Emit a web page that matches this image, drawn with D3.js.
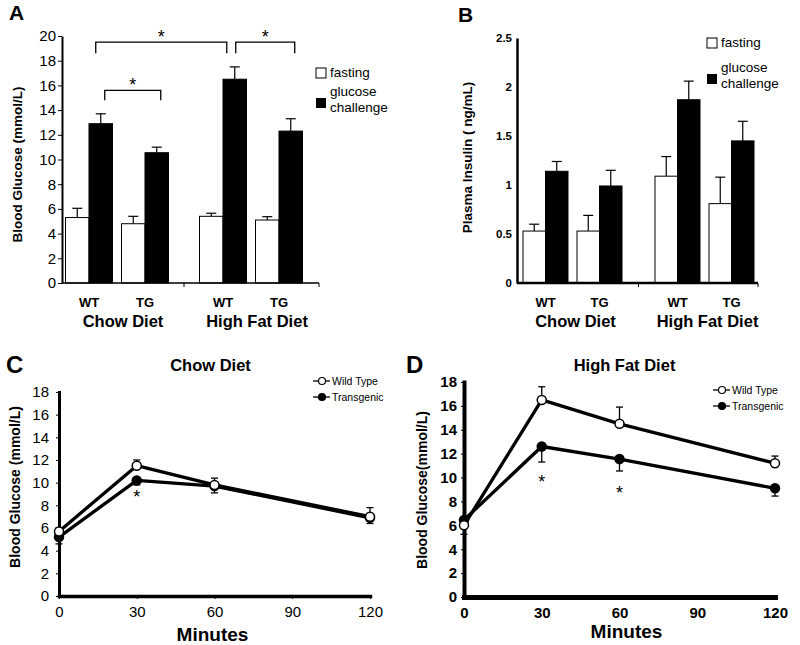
<!DOCTYPE html>
<html>
<head>
<meta charset="utf-8">
<script src="https://cdn.jsdelivr.net/npm/d3@7"></script>
<style>
body { margin: 0; background: #fff; }
text { font-family: "Liberation Sans", Arial, sans-serif; fill: #000; }
</style>
</head>
<body>
<script>
// ---- data ----
var diets = ["Chow Diet", "High Fat Diet"];
var genotypes = ["WT", "TG"];

// panel A, blood glucose (mmol/L); order chow WT, chow TG, HF WT, HF TG
var glucoseFasting = [5.3, 4.8, 5.4, 5.1];
var glucoseFastingErr = [0.75, 0.6, 0.25, 0.27];
var glucoseChallenge = [12.9, 10.55, 16.5, 12.3];
var glucoseChallengeErr = [0.8, 0.45, 1.0, 1.0];
var glucoseTicks = [0, 2, 4, 6, 8, 10, 12, 14, 16, 18, 20];

// panel B, plasma insulin (ng/mL)
var insulinFasting = [0.53, 0.53, 1.09, 0.81];
var insulinFastingErr = [0.07, 0.16, 0.2, 0.27];
var insulinChallenge = [1.14, 0.99, 1.87, 1.45];
var insulinChallengeErr = [0.1, 0.16, 0.19, 0.2];
var insulinTicks = [0, 0.5, 1, 1.5, 2, 2.5];

// significance brackets on challenge bars: [from bar, to bar, top value, foot value]
var sigPairs = [[0, 2, 19.5, 18.6], [2, 3, 19.5, 18.6], [0, 1, 15.6, 14.8]];

// panels C and D, glucose tolerance
var minutes = [0, 30, 60, 120];
var minuteTicks = [0, 30, 60, 90, 120];
var bgTicks = [0, 2, 4, 6, 8, 10, 12, 14, 16, 18];
var seriesNames = ["Wild Type", "Transgenic"];

var chowWT = [5.7, 11.5, 9.8, 7.0];
var chowWTErr = [0.3, 0.5, 0.6, 0.8];     // upward
var chowTG = [5.2, 10.2, 9.7, 6.9];
var chowTGErr = [0.6, 0.4, 0.6, 0.5];     // downward
var chowStars = [[30, 9.1]];

var hfWT = [6.0, 16.5, 14.5, 11.2];
var hfWTErr = [0.3, 1.1, 1.4, 0.6];
var hfTG = [6.45, 12.6, 11.55, 9.1];
var hfTGErr = [1.2, 1.3, 1.0, 0.65];
var hfStars = [[30, 9.97], [60, 9.05]];

var svg = d3.select("body").append("svg")
    .attr("width", 800)
    .attr("height", 645);

function addText(g, x, y, str, size, bold, anchor) {
    return g.append("text")
        .attr("x", x).attr("y", y)
        .attr("font-size", size + "px")
        .attr("font-weight", bold ? "bold" : "normal")
        .attr("text-anchor", anchor || "start")
        .text(str);
}

function errBar(g, x, y0, y1, cap, w) {
    g.append("line").attr("x1", x).attr("x2", x).attr("y1", y0).attr("y2", y1)
        .attr("stroke", "#000").attr("stroke-width", w);
    g.append("line").attr("x1", x - cap / 2).attr("x2", x + cap / 2).attr("y1", y1).attr("y2", y1)
        .attr("stroke", "#000").attr("stroke-width", w);
}

// ---- bar panels (A, B) ----
function barPanel(o) {
    var g = svg.append("g");
    var y = d3.scaleLinear().domain([0, o.yMax]).range([o.yBottom, o.yTop]);
    var xd = d3.scaleBand().domain(diets).range(o.dietRange);
    var xg = d3.scalePoint().domain(genotypes).range([-o.halfGap, o.halfGap]);

    var bars = [];
    diets.forEach(function (dt, i) {
        genotypes.forEach(function (gt, j) {
            var k = i * 2 + j;
            bars.push({
                geno: gt,
                cx: xd(dt) + xd.bandwidth() / 2 + xg(gt),
                fast: o.fasting[k], fastErr: o.fastingErr[k],
                chal: o.challenge[k], chalErr: o.challengeErr[k]
            });
        });
    });

    // error bars
    bars.forEach(function (b) {
        errBar(g, b.cx - o.barW / 2, y(b.fast), y(b.fast + b.fastErr), o.cap, 1.2);
        errBar(g, b.cx + o.barW / 2, y(b.chal), y(b.chal + b.chalErr), o.cap, 1.2);
    });

    g.selectAll("rect.fast").data(bars).enter().append("rect")
        .attr("class", "fast")
        .attr("x", function (d) { return d.cx - o.barW; })
        .attr("y", function (d) { return y(d.fast); })
        .attr("width", o.barW)
        .attr("height", function (d) { return y(0) - y(d.fast); })
        .attr("fill", "#fff").attr("stroke", "#000").attr("stroke-width", 1);

    g.selectAll("rect.chal").data(bars).enter().append("rect")
        .attr("class", "chal")
        .attr("x", function (d) { return d.cx; })
        .attr("y", function (d) { return y(d.chal); })
        .attr("width", o.barW)
        .attr("height", function (d) { return y(0) - y(d.chal); })
        .attr("fill", "#000").attr("stroke", "#000").attr("stroke-width", 1);

    // y axis
    var yAxis = d3.axisLeft(y).tickValues(o.ticks)
        .tickSize(o.tickSize).tickSizeOuter(0).tickPadding(o.tickPad)
        .tickFormat(function (d) { return d; });
    var ya = g.append("g").attr("transform", "translate(" + o.axisX + ",0)").call(yAxis);
    ya.select(".domain").attr("stroke-width", o.yAxisW);
    ya.selectAll(".tick line").attr("stroke-width", 1);
    ya.selectAll(".tick text")
        .attr("font-family", "'Liberation Sans', Arial, sans-serif")
        .attr("font-size", o.tickFont + "px")
        .attr("font-weight", o.tickBold ? "bold" : "normal");

    // x axis: baseline and ticks at diet boundaries
    g.append("line")
        .attr("x1", o.axisX).attr("x2", o.axisEnd)
        .attr("y1", y(0)).attr("y2", y(0))
        .attr("stroke", "#000").attr("stroke-width", o.xAxisW);
    [xd(diets[1]), o.axisEnd].forEach(function (tx) {
        g.append("line").attr("x1", tx).attr("x2", tx)
            .attr("y1", y(0)).attr("y2", y(0) + 4)
            .attr("stroke", "#000").attr("stroke-width", 1);
    });

    bars.forEach(function (b) {
        addText(g, b.cx, o.genoY, b.geno, 13, true, "middle");
    });
    diets.forEach(function (dt) {
        addText(g, xd(dt) + xd.bandwidth() / 2 + o.dietDx, o.dietY, dt, 16.5, true, "middle");
    });

    // y label
    g.append("text")
        .attr("transform", "translate(" + o.labelX + "," + ((o.yTop + o.yBottom) / 2 + o.labelDy) + ") rotate(-90)")
        .attr("text-anchor", "middle")
        .attr("dominant-baseline", "central")
        .attr("font-size", "13.5px").attr("font-weight", "bold")
        .text(o.yLabel);

    addText(g, o.letterX, o.letterY, o.letter, 21, true, "start");

    // legend
    var lg = g.append("g").attr("transform", "translate(" + o.legX + "," + o.legY + ")");
    lg.append("rect").attr("x", 0).attr("y", 0).attr("width", 10).attr("height", 10)
        .attr("fill", "#fff").attr("stroke", "#000").attr("stroke-width", 1);
    addText(lg, 14, 9, "fasting", 13.5, false);
    lg.append("rect").attr("x", 0).attr("y", o.legGap).attr("width", 10).attr("height", 10)
        .attr("fill", "#000");
    addText(lg, 14, o.legGap - 2, "glucose", 13.5, false);
    addText(lg, 14, o.legGap + 14, "challenge", 13.5, false);

    return {g: g, y: y, bars: bars, barW: o.barW};
}

var panelA = barPanel({
    yMax: 20, yBottom: 283, yTop: 36, ticks: glucoseTicks,
    dietRange: [50, 318], halfGap: 28, barW: 23.5, cap: 10,
    fasting: glucoseFasting, fastingErr: glucoseFastingErr,
    challenge: glucoseChallenge, challengeErr: glucoseChallengeErr,
    axisX: 62, axisEnd: 319, yAxisW: 2, xAxisW: 1.5,
    tickSize: 4, tickPad: 2, tickFont: 15, tickBold: false,
    genoY: 307, dietY: 327, dietDx: 6,
    yLabel: "Blood Glucose (mmol/L)", labelX: 17, labelDy: 5,
    letter: "A", letterX: 9, letterY: 20,
    legX: 316, legY: 68, legGap: 30
});

// significance brackets on panel A
var bracketNudge = [[-5, -8], [1, 4], [4, 4]];
sigPairs.forEach(function (p, i) {
    var y = panelA.y, g = panelA.g;
    var x1 = panelA.bars[p[0]].cx + panelA.barW / 2 + bracketNudge[i][0];
    var x2 = panelA.bars[p[1]].cx + panelA.barW / 2 + bracketNudge[i][1];
    g.append("path")
        .attr("d", "M" + x1 + "," + y(p[3]) + "V" + y(p[2]) + "H" + x2 + "V" + y(p[3]))
        .attr("fill", "none").attr("stroke", "#000").attr("stroke-width", 1.3);
    addText(g, (x1 + x2) / 2, y(p[2]) + 1, "*", 18, false, "middle");
});

barPanel({
    yMax: 2.5, yBottom: 283, yTop: 38, ticks: insulinTicks,
    dietRange: [506.5, 770.5], halfGap: 27, barW: 22.5, cap: 10,
    fasting: insulinFasting, fastingErr: insulinFastingErr,
    challenge: insulinChallenge, challengeErr: insulinChallengeErr,
    axisX: 517, axisEnd: 758, yAxisW: 2.5, xAxisW: 2.5,
    tickSize: 0, tickPad: 5, tickFont: 11.5, tickBold: true,
    genoY: 307, dietY: 327, dietDx: 3,
    yLabel: "Plasma Insulin ( ng/mL)", labelX: 467, labelDy: -3,
    letter: "B", letterX: 458, letterY: 22,
    legX: 707, legY: 38, legGap: 36
});

// ---- line panels (C, D) ----
function linePanel(o) {
    var g = svg.append("g");
    var x = d3.scaleLinear().domain([0, 120]).range([o.left, o.right]);
    var y = d3.scaleLinear().domain([0, 18]).range([o.bottom, o.top]);

    var xAxis = d3.axisBottom(x).tickValues(minuteTicks)
        .tickSize(3).tickSizeOuter(0).tickPadding(7);
    var yAxis = d3.axisLeft(y).tickValues(bgTicks)
        .tickSize(3).tickSizeOuter(0).tickPadding(o.yPad);

    var xa = g.append("g").attr("transform", "translate(0," + o.bottom + ")").call(xAxis);
    var ya = g.append("g").attr("transform", "translate(" + o.left + ",0)").call(yAxis);
    xa.select(".domain").attr("stroke-width", o.xAxisW).attr("stroke-linecap", "square");
    ya.select(".domain").attr("stroke-width", o.yAxisW).attr("stroke-linecap", "square");
    g.selectAll(".tick line").attr("stroke-width", 1);
    [xa, ya].forEach(function (a) {
        a.selectAll(".tick text")
            .attr("font-family", "'Liberation Sans', Arial, sans-serif")
            .attr("font-size", o.tickFont + "px")
            .attr("font-weight", o.tickBold ? "bold" : "normal");
    });

    var line = d3.line()
        .x(function (d, i) { return x(minutes[i]); })
        .y(function (d) { return y(d); });

    // error bars: wild type upward, transgenic downward
    o.wt.forEach(function (v, i) {
        errBar(g, x(minutes[i]), y(v), y(v + o.wtErr[i]), 7, 1.3);
    });
    o.tg.forEach(function (v, i) {
        errBar(g, x(minutes[i]), y(v), y(v - o.tgErr[i]), 7, 1.3);
    });

    [o.wt, o.tg].forEach(function (s) {
        g.append("path").datum(s)
            .attr("d", line)
            .attr("fill", "none").attr("stroke", "#000")
            .attr("stroke-width", 3.3).attr("stroke-linejoin", "round");
    });

    [[o.tg, "#000"], [o.wt, "#fff"]].forEach(function (s) {
        g.selectAll(null).data(s[0]).enter().append("circle")
            .attr("cx", function (d, i) { return x(minutes[i]); })
            .attr("cy", function (d) { return y(d); })
            .attr("r", 4.5)
            .attr("fill", s[1]).attr("stroke", "#000").attr("stroke-width", 1.5);
    });

    o.stars.forEach(function (s) {
        addText(g, x(s[0]), y(s[1]) + 10, "*", 18, false, "middle");
    });

    addText(g, (o.left + o.right) / 2 + o.titleDx, o.titleY, o.title, 16.5, true, "middle");
    addText(g, (o.left + o.right) / 2 + o.titleDx + 2, o.minY, "Minutes", 19, true, "middle");
    addText(g, o.letterX, o.letterY, o.letter, 24, true, "start");

    g.append("text")
        .attr("transform", "translate(" + o.labelX + "," + o.labelY + ") rotate(-90)")
        .attr("text-anchor", "middle")
        .attr("dominant-baseline", "central")
        .attr("font-size", "14px").attr("font-weight", "bold")
        .text(o.yLabel);

    // legend
    var lg = g.append("g").attr("transform", "translate(" + o.legX + "," + o.legY + ")");
    [["#fff", 0], ["#000", 16]].forEach(function (d, i) {
        lg.append("line").attr("x1", 0).attr("x2", 17).attr("y1", d[1]).attr("y2", d[1])
            .attr("stroke", "#000").attr("stroke-width", 1.3);
        lg.append("circle").attr("cx", 9).attr("cy", d[1]).attr("r", 3.5)
            .attr("fill", d[0]).attr("stroke", "#000").attr("stroke-width", 1.2);
        addText(lg, 19, d[1] + 4, seriesNames[i], 10.5, false);
    });
}

linePanel({
    left: 59, right: 370, bottom: 596, top: 392,
    xAxisW: 3.5, yAxisW: 3, yPad: 7, tickFont: 15, tickBold: false,
    wt: chowWT, wtErr: chowWTErr, tg: chowTG, tgErr: chowTGErr, stars: chowStars,
    title: "Chow Diet", titleDx: -4, titleY: 371, minY: 641,
    letter: "C", letterX: 6, letterY: 373,
    yLabel: "Blood Glucose (mmol/L)", labelX: 15, labelY: 487,
    legX: 313, legY: 381
});

linePanel({
    left: 464, right: 775, bottom: 597, top: 382,
    xAxisW: 5, yAxisW: 4, yPad: 4, tickFont: 15, tickBold: true,
    wt: hfWT, wtErr: hfWTErr, tg: hfTG, tgErr: hfTGErr, stars: hfStars,
    title: "High Fat Diet", titleDx: 5, titleY: 371, minY: 638,
    letter: "D", letterX: 406, letterY: 373,
    yLabel: "Blood Glucose(mmol/L)", labelX: 422, labelY: 490,
    legX: 713, legY: 390
});
</script>
</body>
</html>
